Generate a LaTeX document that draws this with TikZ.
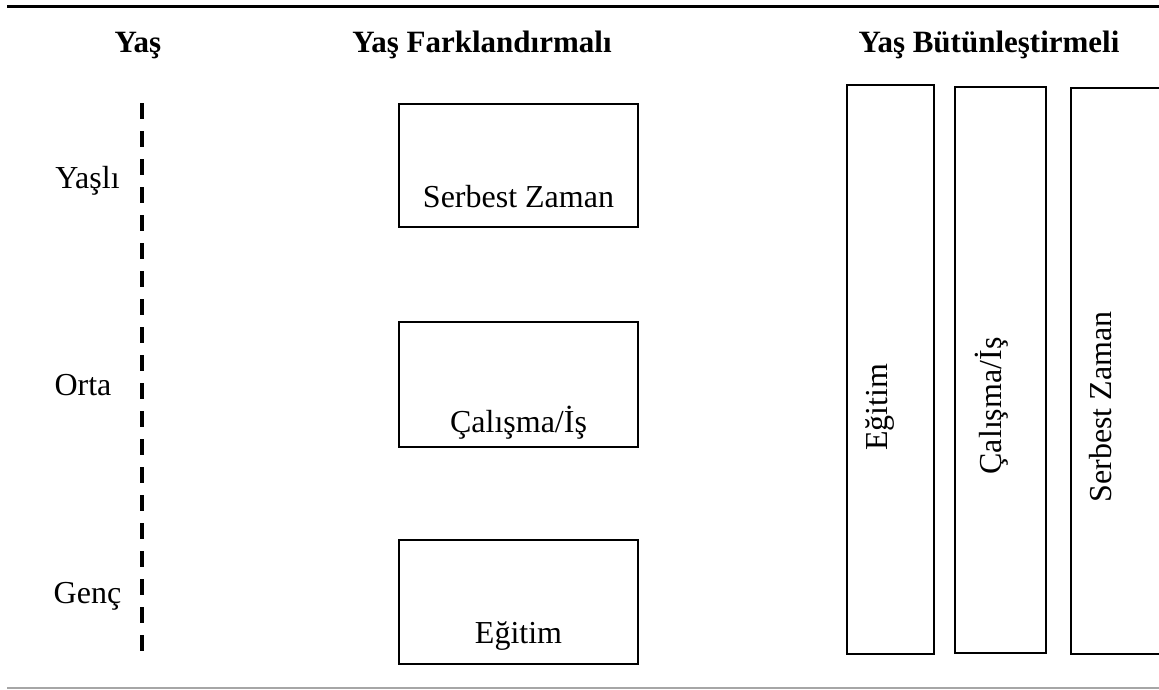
\documentclass[tikz,border=0pt]{standalone}
\usepackage{fontspec}
\setmainfont{Liberation Serif}
\usetikzlibrary{positioning}

\begin{document}
\begin{tikzpicture}[x=1pt,y=-1pt,
    kutu/.style={draw, line width=1.3pt, inner sep=0pt},
    baslik/.style={font=\fontsize{31}{36}\selectfont\bfseries, anchor=base, inner sep=0pt},
    yazi/.style={font=\fontsize{32}{37}\selectfont, anchor=base, inner sep=0pt},
    dik/.style={yazi, rotate=90}]
    \useasboundingbox (0,0) rectangle (1159,689);
    \clip (0,0) rectangle (1159,689);
    \draw[line width=3pt] (7,6.5) -- (1159,6.5);
    \draw[line width=1.5pt, black!35] (7,688) -- (1159,688);

    \node[baslik] (yas) at (138,52) {Yaş};
    \node[baslik] (fark) at (482,52) {Yaş Farklandırmalı};
    \node[baslik] (butun) at (989,52) {Yaş Bütünleştirmeli};

    % yas ekseni
    \coordinate (ust) at (142,103);
    \coordinate (alt) at (142,652);
    \draw[line width=4.5pt, dash pattern=on 16pt off 12pt] (ust) -- (alt);
    \node[yazi] (yasli) at (87.5,188) {Yaşlı};
    \node[yazi] (orta) at (83,395) {Orta};
    \node[yazi] (genc) at (87.5,603) {Genç};

    % farklandirmali
    \node[kutu, minimum width=239pt, minimum height=123pt] (serbest) at (518.5,165.5) {};
    \node[kutu, minimum width=239pt, minimum height=125pt] (calisma) at (518.5,384.5) {};
    \node[kutu, minimum width=239pt, minimum height=124pt] (egitim) at (518.5,602) {};
    \node[yazi] (serbestyazi) at ([yshift=20pt]serbest.south) {Serbest Zaman};
    \node[yazi] (calismayazi) at ([yshift=15pt]calisma.south) {Çalışma/İş};
    \node[yazi] (egitimyazi) at ([yshift=21pt]egitim.south) {Eğitim};

    % butunlestirmeli
    \node[kutu, minimum width=87pt, minimum height=569pt] (egitim2) at (890.5,369.5) {};
    \node[kutu, minimum width=91pt, minimum height=566pt] (calisma2) at (1000.5,370) {};
    \node[kutu, minimum width=104pt, minimum height=566pt] (serbest2) at (1123,371) {};
    \node[dik] (egitim2yazi) at (887,407) {Eğitim};
    \node[dik] (calisma2yazi) at (1001,406) {Çalışma/İş};
    \node[dik] (serbest2yazi) at (1111,407) {Serbest Zaman};
\end{tikzpicture}
\end{document}
